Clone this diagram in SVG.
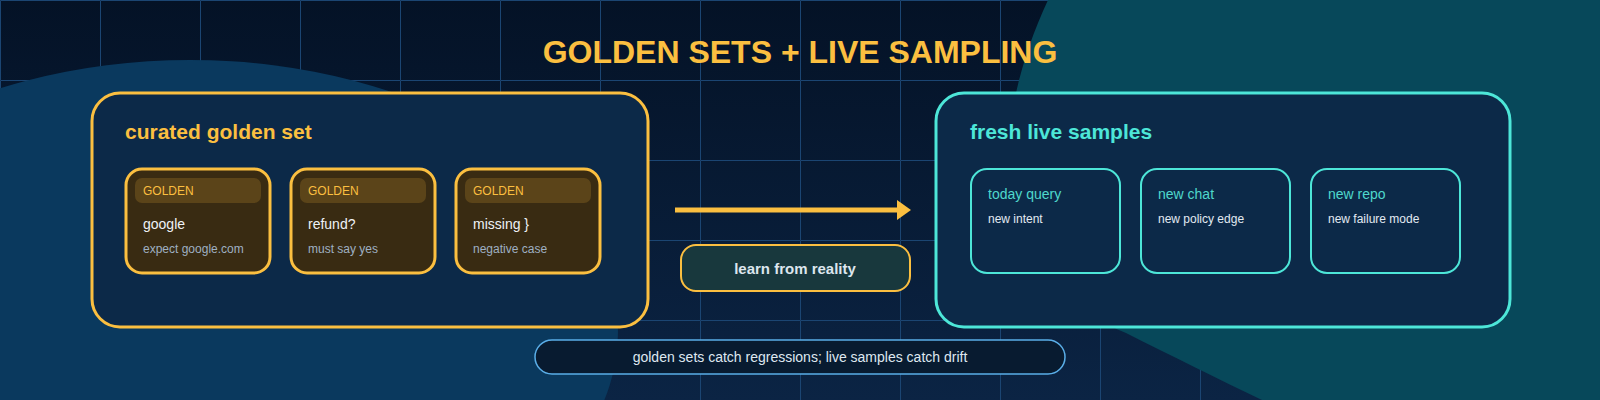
<svg xmlns="http://www.w3.org/2000/svg" width="1600" height="400" viewBox="0 0 1600 400">
  <style>
    .sans { font-family: "Liberation Sans", Arial, sans-serif; }
    .title { font-size: 32px; font-weight: bold; fill: #fbbf40; }
    .panel { fill: #0c2948; stroke-width: 3; }
    .gold-stroke { stroke: #fbbf40; }
    .teal-stroke { stroke: #4de6d8; }
    .ptitle { font-size: 21px; font-weight: bold; }
    .gcard { fill: #392b12; stroke: #fbbf40; stroke-width: 3; }
    .gbar { fill: #5b4419; }
    .gtag { font-size: 12px; fill: #fbbf40; }
    .main { font-size: 14px; fill: #eef2f6; }
    .sub { font-size: 12px; fill: #9fb0c2; }
    .tcard { fill: none; stroke: #4de6d8; stroke-width: 2; }
    .tmain { font-size: 14px; fill: #4fd8cc; }
    .tsub { font-size: 12px; fill: #e2eaf2; }
  </style>
  <defs>
    <linearGradient id="bg" x1="0" y1="0" x2="0" y2="1">
      <stop offset="0" stop-color="#041226"/>
      <stop offset="1" stop-color="#0b2444"/>
    </linearGradient>
    <pattern id="grid" width="100" height="80" patternUnits="userSpaceOnUse">
      <path d="M100 0.5 L0.5 0.5 L0.5 80" fill="none" stroke="#1b4572" stroke-width="1"/>
    </pattern>
    <marker id="arrow" markerUnits="userSpaceOnUse" markerWidth="14" markerHeight="20" refX="0" refY="10" orient="auto">
      <path d="M0 0 L14 10 L0 20 Z" fill="#fbbf40"/>
    </marker>
  </defs>

  <!-- background -->
  <rect x="0" y="0" width="1600" height="400" fill="url(#bg)"/>
  <rect x="0" y="0" width="1600" height="400" fill="url(#grid)"/>
  <ellipse cx="190" cy="332" rx="428" ry="272" fill="#0a395e"/>
  <path d="M1048 0 C1020 60 1002 130 1008 200 C1015 260 1060 305 1126 333 C1170 355 1220 380 1262 400 L1600 400 L1600 0 Z" fill="#07485a"/>

  <text class="sans title" x="800" y="63" text-anchor="middle">GOLDEN SETS + LIVE SAMPLING</text>

  <!-- left panel -->
  <g id="golden-set">
    <rect class="panel gold-stroke" x="92" y="93" width="556" height="234" rx="28"/>
    <text class="sans ptitle" x="125" y="139" fill="#fbbf40">curated golden set</text>
    <g id="golden-google">
      <rect class="gcard" x="126" y="169" width="144" height="104" rx="16"/>
      <rect class="gbar" x="135" y="178" width="126" height="25" rx="7"/>
      <text class="sans gtag" x="143" y="195">GOLDEN</text>
      <text class="sans main" x="143" y="229">google</text>
      <text class="sans sub" x="143" y="253">expect google.com</text>
    </g>
    <g id="golden-refund">
      <rect class="gcard" x="291" y="169" width="144" height="104" rx="16"/>
      <rect class="gbar" x="300" y="178" width="126" height="25" rx="7"/>
      <text class="sans gtag" x="308" y="195">GOLDEN</text>
      <text class="sans main" x="308" y="229">refund?</text>
      <text class="sans sub" x="308" y="253">must say yes</text>
    </g>
    <g id="golden-missing">
      <rect class="gcard" x="456" y="169" width="144" height="104" rx="16"/>
      <rect class="gbar" x="465" y="178" width="126" height="25" rx="7"/>
      <text class="sans gtag" x="473" y="195">GOLDEN</text>
      <text class="sans main" x="473" y="229">missing }</text>
      <text class="sans sub" x="473" y="253">negative case</text>
    </g>
  </g>

  <!-- right panel -->
  <g id="live-samples">
    <rect class="panel teal-stroke" x="936" y="93" width="574" height="234" rx="28"/>
    <text class="sans ptitle" x="970" y="139" fill="#4de6d8">fresh live samples</text>
    <g id="live-today">
      <rect class="tcard" x="971" y="169" width="149" height="104" rx="16"/>
      <text class="sans tmain" x="988" y="199">today query</text>
      <text class="sans tsub" x="988" y="223">new intent</text>
    </g>
    <g id="live-chat">
      <rect class="tcard" x="1141" y="169" width="149" height="104" rx="16"/>
      <text class="sans tmain" x="1158" y="199">new chat</text>
      <text class="sans tsub" x="1158" y="223">new policy edge</text>
    </g>
    <g id="live-repo">
      <rect class="tcard" x="1311" y="169" width="149" height="104" rx="16"/>
      <text class="sans tmain" x="1328" y="199">new repo</text>
      <text class="sans tsub" x="1328" y="223">new failure mode</text>
    </g>
  </g>

  <!-- connectors -->
  <g id="connectors">
    <line x1="675" y1="210" x2="897" y2="210" stroke="#fbbf40" stroke-width="5" marker-end="url(#arrow)"/>
  </g>

  <g id="learn-label">
    <rect x="681" y="245" width="229" height="46" rx="15" fill="#18383d" stroke="#fbbf40" stroke-width="2"/>
    <text class="sans" x="795" y="274" text-anchor="middle" font-size="15" font-weight="bold" fill="#dde6ee">learn from reality</text>
  </g>

  <g id="footer-note">
    <rect x="535" y="340" width="530" height="34" rx="17" fill="#081b30" stroke="#5aaee8" stroke-width="1.5"/>
    <text class="sans" x="800" y="362" text-anchor="middle" font-size="14" fill="#dfe8f0">golden sets catch regressions; live samples catch drift</text>
  </g>
</svg>
